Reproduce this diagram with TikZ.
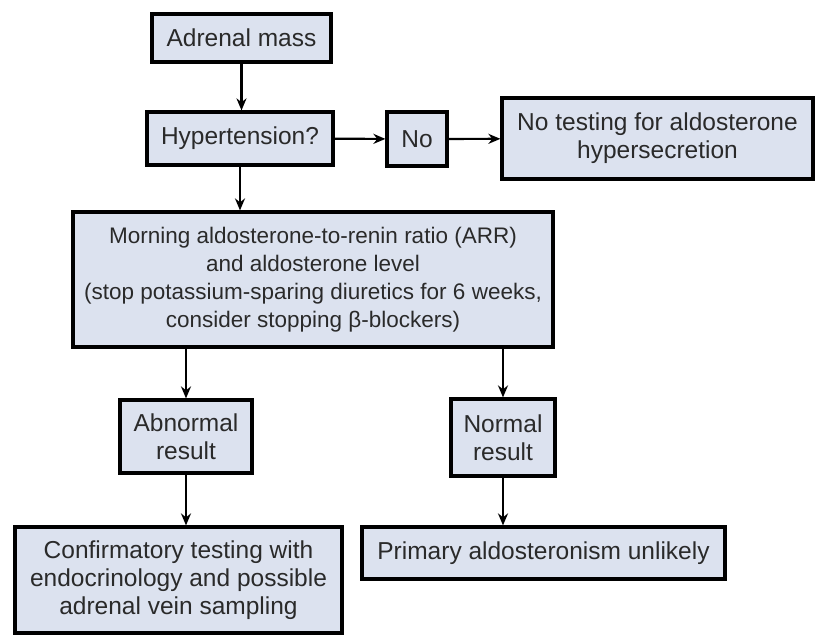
\documentclass[tikz,border=0pt]{standalone}
\usepackage{fontspec}
\setmainfont{Liberation Sans}
\usetikzlibrary{arrows.meta}
\definecolor{boxfill}{HTML}{DCE2EF}
\definecolor{boxtext}{HTML}{2A2A2A}
\tikzset{
	flowbox/.style={draw=black, line width=3.2pt, fill=boxfill, text=boxtext, align=center, inner sep=0pt, font=\fontsize{24.5}{28}\selectfont},
	flowarrow/.style={-{Stealth[length=12pt,width=10pt]}, line width=2.2pt}
}
\begin{document}
\begin{tikzpicture}[x=1pt, y=-1pt]
		\useasboundingbox (0,0) rectangle (827,636);
		\node[flowbox, minimum width=179pt, minimum height=48pt] (mass) at (241.5,38) {Adrenal mass};
		\node[flowbox, minimum width=186pt, minimum height=53pt] (hyp) at (240,138.5) {Hypertension?};
		\node[flowbox, minimum width=60pt, minimum height=54pt] (no) at (417,139) {No};
		\node[flowbox, minimum width=311pt, minimum height=81pt] (notest) at (657.5,138.5) {No testing for aldosterone\\hypersecretion};
		\node[flowbox, minimum width=480pt, minimum height=135pt, font=\fontsize{22.5}{28}\selectfont] (arr) at (313,279.5) {Morning aldosterone-to-renin ratio (ARR)\\and aldosterone level\\(stop potassium-sparing diuretics for 6 weeks,\\consider stopping β-blockers)};
		\node[flowbox, minimum width=132pt, minimum height=73pt] (abn) at (186,436.5) {Abnormal\\result};
		\node[flowbox, minimum width=104pt, minimum height=77pt] (norm) at (503,437.5) {Normal\\result};
		\node[flowbox, minimum width=327pt, minimum height=106pt] (confirm) at (178.5,580) {Confirmatory testing with\\endocrinology and possible\\adrenal vein sampling};
		\node[flowbox, minimum width=363pt, minimum height=52pt] (unlikely) at (543.5,553) {Primary aldosteronism unlikely};
		% connectors
		\draw[flowarrow] (mass) -- (mass |- hyp.north);
		\draw[flowarrow] (hyp) -- (no);
		\draw[flowarrow] (no) -- (notest);
		\draw[flowarrow] (hyp.south) -- (hyp.south |- arr.north);
		\draw[flowarrow] (arr.south -| abn.north) -- (abn.north);
		\draw[flowarrow] (arr.south -| norm.north) -- (norm.north);
		\draw[flowarrow] (abn.south) -- (abn.south |- confirm.north);
		\draw[flowarrow] (norm.south) -- (norm.south |- unlikely.north);
	\end{tikzpicture}
\end{document}
